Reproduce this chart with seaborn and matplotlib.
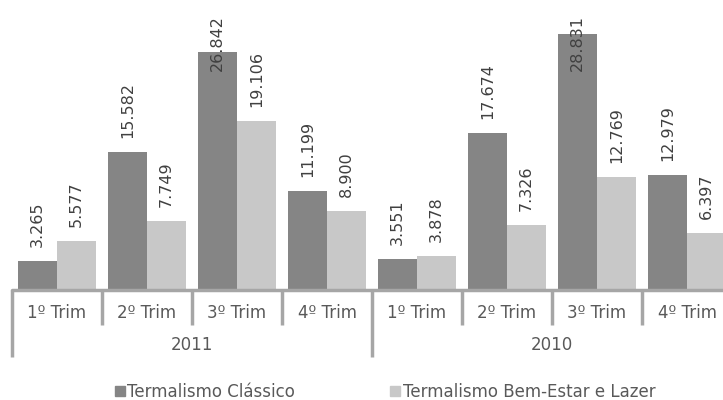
import pandas as pd
import seaborn as sns
import matplotlib.pyplot as plt
from matplotlib.patches import Patch

# data
anos = ['2011', '2010']
trimestres = ['1º Trim', '2º Trim', '3º Trim', '4º Trim']
series = ['Termalismo Clássico', 'Termalismo Bem-Estar e Lazer']
classico = [3265, 15582, 26842, 11199, 3551, 17674, 28831, 12979]
bem_estar = [5577, 7749, 19106, 8900, 3878, 7326, 12769, 6397]

periodos = [a + ' ' + t for a in anos for t in trimestres]
df = pd.DataFrame({
    'periodo': periodos * 2,
    'serie': [series[0]] * len(periodos) + [series[1]] * len(periodos),
    'valor': classico + bem_estar,
})

cores = ['#858585', '#c8c8c8']
cor_eixo = '#a6a6a6'
cor_texto = '#595959'

sns.set_style('white')
plt.rcParams['font.family'] = ['DejaVu Sans']

fig = plt.figure(figsize=(7.23, 4), dpi=100)
ax = fig.add_axes([12 / 723, 110 / 400, 720 / 723, 290 / 400])

sns.barplot(data=df, x='periodo', y='valor', hue='serie', order=periodos,
            hue_order=series, palette=cores, width=0.86, saturation=1,
            linewidth=0, legend=False, ax=ax)

ax.set_xlim(-0.5, len(periodos) - 0.5)
ax.set_ylim(0, 32700)
ax.set_xticks([])
ax.set_yticks([])
ax.set_xlabel('')
ax.set_ylabel('')
sns.despine(ax=ax, left=True, bottom=True)

# value labels, rotated; the tallest ones are pushed down to fit
for cont in ax.containers:
    for bar in cont:
        v = bar.get_height()
        xc = bar.get_x() + bar.get_width() / 2
        txt = f'{v / 1000:.3f}'
        if v > 24000:
            ax.annotate(txt, (xc, 1), xycoords=('data', 'axes fraction'),
                        xytext=(0, -11), textcoords='offset points',
                        rotation=90, ha='center', va='top',
                        fontsize=11.5, color='#404040')
        else:
            ax.annotate(txt, (xc, v), xytext=(0, 10),
                        textcoords='offset points', rotation=90,
                        ha='center', va='bottom', fontsize=11.5,
                        color='#404040')

# multi-level category axis
trans = ax.get_xaxis_transform()
ax.plot([-0.5, len(periodos) - 0.5], [0, 0], transform=trans,
        color=cor_eixo, lw=2.5, clip_on=False)
for i in range(len(periodos) + 1):
    b = i - 0.5
    fundo = -0.231 if i % 4 == 0 else -0.121
    ax.plot([b, b], [0, fundo], transform=trans, color=cor_eixo,
            lw=2.5, clip_on=False, solid_capstyle='butt')
for i, p in enumerate(periodos):
    ax.text(i, -0.079, p.split(' ', 1)[1], transform=trans, ha='center',
            va='center', fontsize=12, color=cor_texto)
for j, a in enumerate(anos):
    ax.text(j * 4 + 1.5, -0.19, a, transform=trans, ha='center',
            va='center', fontsize=12, color=cor_texto)

handles = [Patch(color=c) for c in cores]
fig.legend(handles, series, loc='center left',
           bbox_to_anchor=(115 / 723, 8 / 400), ncol=2, frameon=False,
           fontsize=12, handlelength=0.6, handleheight=0.6,
           handletextpad=0.15, columnspacing=5.7, borderpad=0,
           borderaxespad=0, labelcolor=cor_texto)

fig.savefig('out.png', dpi=100)
plt.close(fig)
